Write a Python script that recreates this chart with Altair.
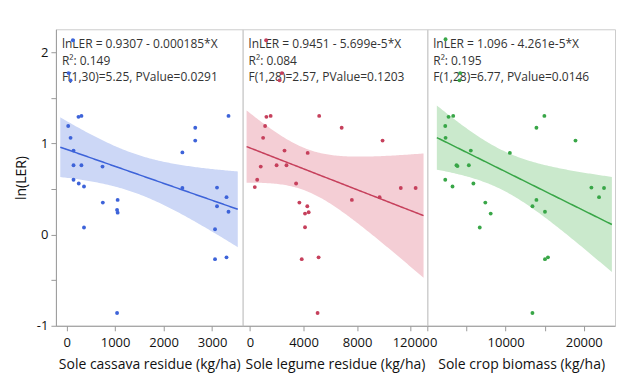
import altair as alt
import pandas as pd
import numpy as np

Y_TITLE = "ln(LER)"

x_titles = ["Sole cassava residue (kg/ha)", "Sole legume residue (kg/ha)", "Sole crop biomass (kg/ha)"]

cassava_x = [129, 40, 82, 245, 306, 33, 82, 143, 143, 306, 741, 143, 251, 359, 2388, 2653, 2653, 3339,
             2388, 3102, 3298, 1053, 747, 1041, 1053, 359, 1041, 3102, 3339, 3061, 3061, 3298]
cassava_y = [2.13, 1.77, 1.69, 1.29, 1.30, 1.19, 1.06, 0.92, 0.76, 0.76, 0.745, 0.60, 0.56, 0.526, 0.90, 1.17, 1.03, 1.30,
             0.51, 0.515, 0.41, 0.38, 0.35, 0.27, 0.24, 0.077, -0.86, 0.31, 0.25, 0.058, -0.27, -0.25]

legume_x = [1212, 2394, 2217, 1234, 1552, 1138, 990, 2586, 813, 1995, 2734, 547, 369, 5172, 6850, 9902, 4314, 3451,
            11261, 12370, 7611, 9680, 3695, 4286, 4116, 4389, 4116, 3872, 5128, 5054]
legume_y = [2.13, 1.77, 1.69, 1.29, 1.30, 1.19, 1.06, 0.92, 0.745, 0.76, 0.76, 0.60, 0.52, 1.30, 1.17, 1.03, 0.895, 0.56,
            0.51, 0.51, 0.38, 0.41, 0.35, 0.31, 0.23, 0.245, 0.08, -0.27, -0.25, -0.86]

biomass_x = [2315, 4186, 4097, 2697, 3295, 2277, 2315, 5547, 3715, 3842, 5293, 2277, 3206, 5878, 14962, 13944, 18944, 10547,
             20980, 22595, 21959, 13944, 7405, 8092, 6692, 13435, 15038, 15038, 15420, 13435]
biomass_y = [2.14, 1.77, 1.69, 1.29, 1.30, 1.19, 1.06, 0.92, 0.76, 0.75, 0.76, 0.60, 0.526, 0.56, 1.30, 1.17, 1.03, 0.895,
             0.515, 0.51, 0.41, 0.38, 0.35, 0.23, 0.077, 0.31, 0.25, -0.27, -0.25, -0.86]

annotations = [
    ["lnLER = 0.9307 - 0.000185*X", "R²: 0.149", "F(1,30)=5.25, PValue=0.0291"],
    ["lnLER = 0.9451 - 5.699e-5*X", "R²: 0.084", "F(1,28)=2.57, PValue=0.1203"],
    ["lnLER = 1.096 - 4.261e-5*X", "R²: 0.195", "F(1,28)=6.77, PValue=0.0146"],
]

x_domains = [[-220, 3630], [-540, 13240], [-20, 24000]]
fit_ranges = [[-130, 3530], [-245, 12960], [1200, 23600]]
tick_values = [list(range(0, 3501, 500)), list(range(0, 12001, 2000)), list(range(0, 22501, 2500))]
label_every = [1000, 4000, 10000]
t_crit = [2.042, 2.048, 2.048]  # 95% two-sided t quantiles for df 30, 28, 28

point_colors = ["#3d63d9", "#c6405c", "#38a647"]
band_colors = ["#ccd7f6", "#f4ced5", "#cae9cc"]
panel_widths = [187, 185, 188]

xs = [cassava_x, legume_x, biomass_x]
ys = [cassava_y, legume_y, biomass_y]

FONT = "Segoe UI, Open Sans, sans-serif"
H = 297
yscale = alt.Scale(domain=[-1, 2.25], nice=False, zero=False)


def panel(i):
    x = np.array(xs[i], dtype=float)
    y = np.array(ys[i], dtype=float)
    n = len(x)
    slope, intercept = np.polyfit(x, y, 1)
    resid = y - (intercept + slope * x)
    s = np.sqrt(np.sum(resid ** 2) / (n - 2))
    sxx = np.sum((x - x.mean()) ** 2)
    grid = np.linspace(fit_ranges[i][0], fit_ranges[i][1], 120)
    fit = intercept + slope * grid
    half = t_crit[i] * s * np.sqrt(1.0 / n + (grid - x.mean()) ** 2 / sxx)
    bdf = pd.DataFrame({"x": grid, "fit": fit, "lo": fit - half, "hi": fit + half})
    pdf = pd.DataFrame({"x": x, "y": y})

    axis_kw = dict(values=tick_values[i],
                   labelExpr=f"datum.value % {label_every[i]} == 0 ? toString(datum.value) : ''",
                   grid=False, tickSize=5, labelPadding=6, titlePadding=8, labelFlush=False)
    if i == 2:
        axis_kw["labelAlign"] = {"condition": {"test": "datum.value == 0", "value": "left"}, "value": "center"}
        axis_kw["labelOffset"] = {"condition": {"test": "datum.value == 0", "value": 2}, "value": 0}
    xaxis = alt.Axis(**axis_kw)
    if i == 0:
        yaxis = alt.Axis(values=[-1, -0.5, 0, 0.5, 1, 1.5, 2],
                         labelExpr="datum.value % 1 == 0 ? toString(datum.value) : ''",
                         grid=False, tickSize=5, labelPadding=3, titlePadding=8, title=Y_TITLE)
    else:
        yaxis = None
    xscale = alt.Scale(domain=x_domains[i], nice=False, zero=False)

    band = alt.Chart(bdf).mark_area(color=band_colors[i], opacity=1).encode(
        x=alt.X("x:Q", scale=xscale, axis=xaxis, title=x_titles[i]),
        y=alt.Y("lo:Q", scale=yscale, axis=yaxis, title=Y_TITLE),
        y2="hi:Q",
    )
    line = alt.Chart(bdf).mark_line(color=point_colors[i], strokeWidth=1.5).encode(
        x="x:Q", y="fit:Q"
    )
    texts = []
    for j, t in enumerate(annotations[i]):
        texts.append(
            alt.Chart(pd.DataFrame({"t": [t]})).mark_text(
                align="left", baseline="middle", fontSize=12, font=FONT, color="#333333"
            ).encode(x=alt.value(6), y=alt.value(15 + 16.5 * j), text="t:N")
        )
    pts = alt.Chart(pdf).mark_circle(color=point_colors[i], size=15, opacity=1).encode(
        x="x:Q", y="y:Q"
    )
    return alt.layer(band, line, *texts, pts).properties(width=panel_widths[i], height=H)


chart = alt.hconcat(*[panel(i) for i in range(3)], spacing=0, bounds="flush").properties(
    padding={"left": 5, "top": 20, "right": 0, "bottom": 5}
).configure_view(
    stroke="#cccccc", strokeWidth=1
).configure_axis(
    labelFont=FONT, titleFont=FONT, labelFontSize=13, titleFontSize=14,
    labelColor="#111111", titleColor="#111111", titleFontWeight="normal",
    domainColor="#9a9a9a", tickColor="#9a9a9a"
)

chart.save("out.html", embed_options={"renderer": "svg", "actions": False})
